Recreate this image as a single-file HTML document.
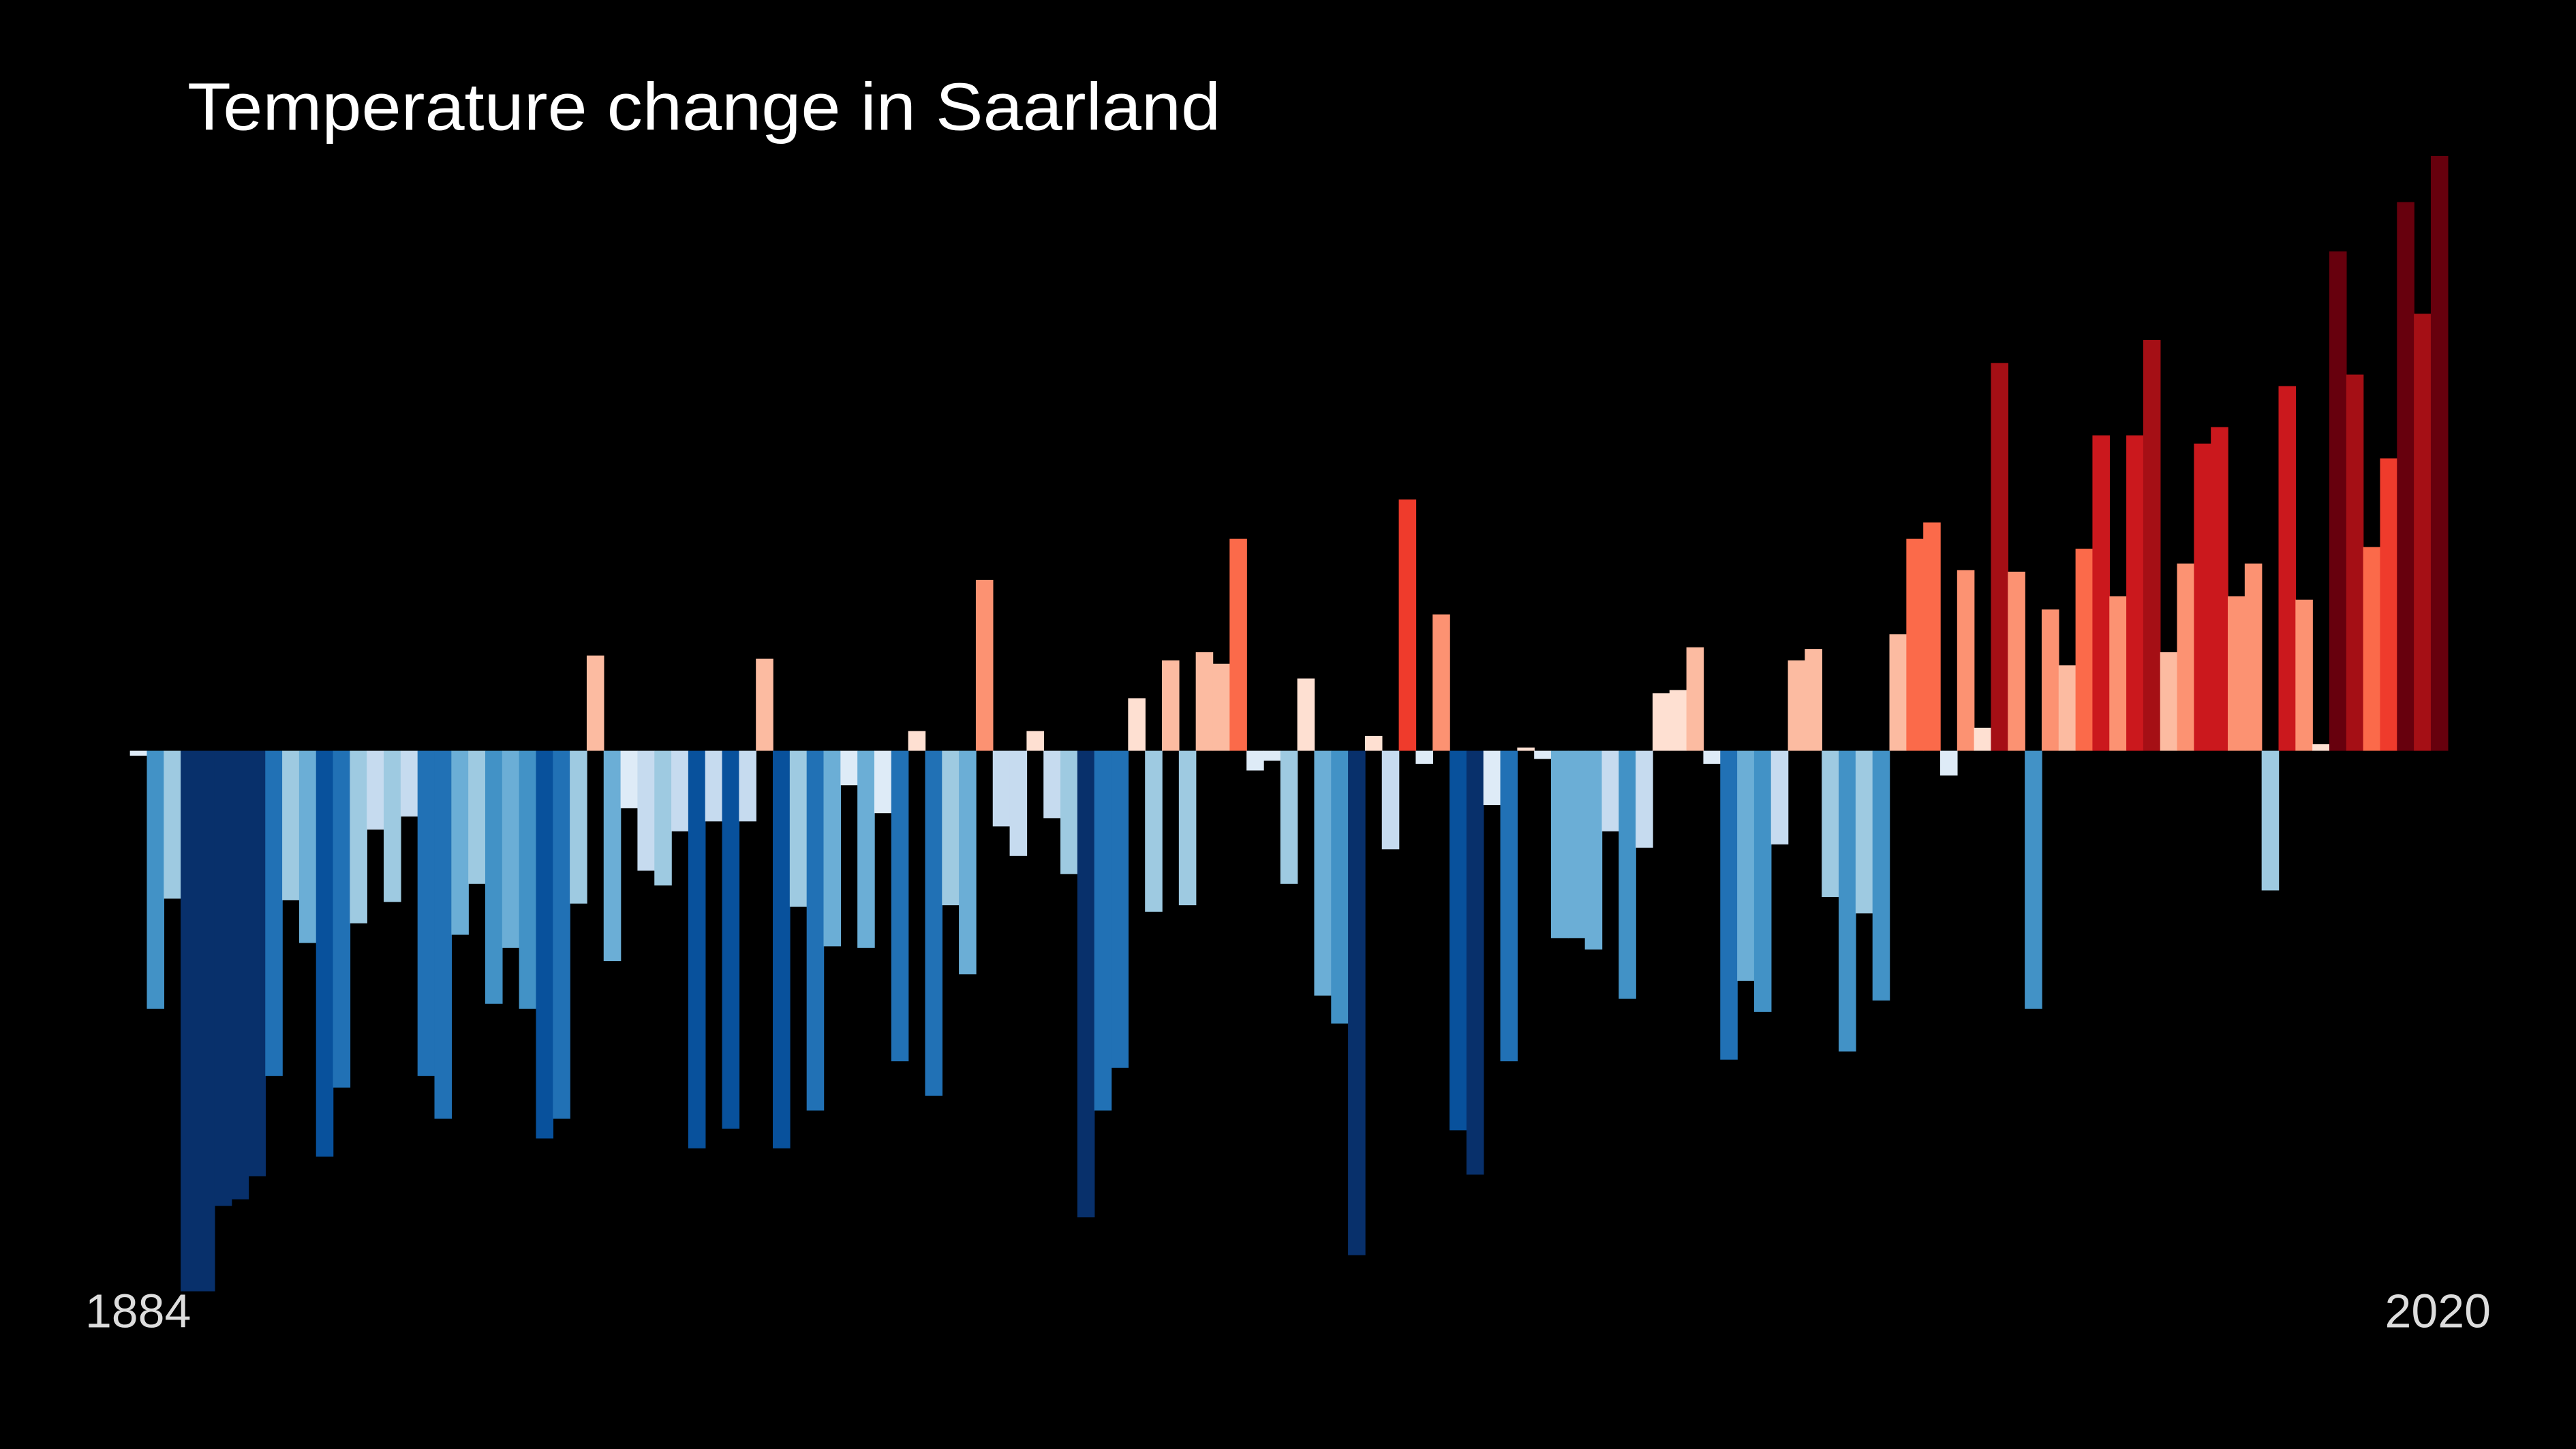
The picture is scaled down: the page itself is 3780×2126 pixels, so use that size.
<!DOCTYPE html>
<html><head><meta charset="utf-8"><style>
html,body{margin:0;padding:0;background:#000;}
svg{display:block;}
</style></head><body>
<svg id="chart" width="3780" height="2126" viewBox="0 0 1568 882" xmlns="http://www.w3.org/2000/svg">
<rect width="1568" height="882" fill="#000"/>
<text x="114" y="79" fill="#fff" font-family="Liberation Sans, sans-serif" font-size="41" textLength="629" lengthAdjust="spacingAndGlyphs">Temperature change in Saarland</text>
<g id="bars"></g>
<text id="startLabel" x="84" y="808" fill="#ddd" font-family="Liberation Sans, sans-serif" font-size="29" text-anchor="middle">1884</text>
<text id="endLabel" x="1484" y="808" fill="#ddd" font-family="Liberation Sans, sans-serif" font-size="29" text-anchor="middle">2020</text>
</svg>
<script>
const startYear = 1884;
const endYear = 2020;
const anomalies = [-0.03,-1.57,-0.90,-3.29,-3.29,-2.77,-2.73,-2.59,-1.98,-0.91,-1.17,-2.47,-2.05,-1.05,-0.48,-0.92,-0.40,-1.98,-2.24,-1.12,-0.81,-1.54,-1.20,-1.57,-2.36,-2.24,-0.93,0.58,-1.28,-0.35,-0.73,-0.82,-0.49,-2.42,-0.43,-2.30,-0.43,0.56,-2.42,-0.95,-2.19,-1.19,-0.21,-1.20,-0.38,-1.89,0.12,-2.10,-0.94,-1.36,1.04,-0.46,-0.64,0.12,-0.41,-0.75,-2.84,-2.19,-1.93,0.32,-0.98,0.55,-0.94,0.60,0.53,1.29,-0.12,-0.06,-0.81,0.44,-1.49,-1.66,-3.07,0.09,-0.60,1.53,-0.08,0.83,-2.31,-2.58,-0.33,-1.89,0.02,-0.05,-1.14,-1.14,-1.21,-0.49,-1.51,-0.59,0.35,0.37,0.63,-0.08,-1.88,-1.40,-1.59,-0.57,0.55,0.62,-0.89,-1.83,-0.99,-1.52,0.71,1.29,1.39,-0.15,1.10,0.14,2.36,1.09,-1.57,0.86,0.52,1.23,1.92,0.94,1.92,2.50,0.60,1.14,1.87,1.97,0.94,1.14,-0.85,2.22,0.92,0.04,3.04,2.29,1.24,1.78,3.34,2.66,3.62];
const blues = ['#deebf7','#c6dbef','#9ecae1','#6baed6','#4292c6','#2171b5','#08519c','#08306b'];
const reds = ['#fee0d2','#fcbba1','#fc9272','#fb6a4a','#ef3b2c','#cb181d','#a50f15','#67000d'];
const blueCuts = [0.4,0.75,1.1,1.5,1.85,2.3,2.55];
const redCuts = [0.45,0.8,1.2,1.5,1.85,2.25,2.9];
const x0 = 79, x1 = 1490, baseY = 457, pxPerUnit = 100;
const n = endYear - startYear + 1;
const bw = (x1 - x0) / n;
function xScale(i){ return x0 + i * bw; }
function yScale(v){ return baseY - v * pxPerUnit; }
function color(v){
  const a = Math.abs(v);
  const cuts = v < 0 ? blueCuts : redCuts;
  let idx = 0;
  while (idx < cuts.length && a >= cuts[idx]) idx++;
  return v < 0 ? blues[idx] : reds[idx];
}
const g = document.getElementById('bars');
anomalies.forEach((v, i) => {
  const r = document.createElementNS('http://www.w3.org/2000/svg', 'rect');
  const y = Math.min(yScale(v), baseY);
  const h = Math.max(Math.abs(yScale(v) - baseY), 0.8);
  r.setAttribute('x', xScale(i));
  r.setAttribute('y', y);
  r.setAttribute('width', bw + 0.3);
  r.setAttribute('height', h);
  r.setAttribute('fill', color(v));
  
  
  g.appendChild(r);
});
</script>
</body></html>
